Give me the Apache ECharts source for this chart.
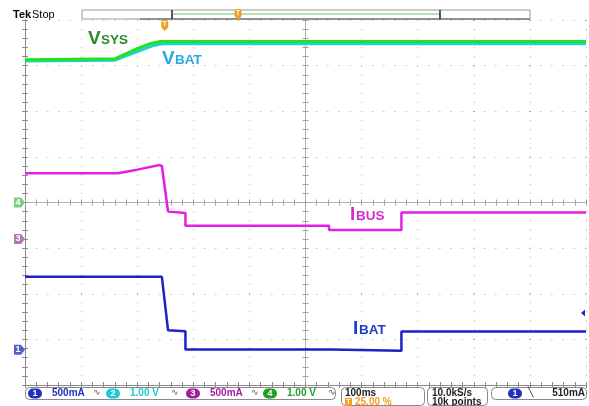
<!DOCTYPE html>
<html>
<head>
<meta charset="utf-8">
<script src="https://cdn.jsdelivr.net/npm/echarts@6/dist/echarts.min.js"></script>
<style>
html, body { margin: 0; padding: 0; background: #fff; }
#chart { width: 589px; height: 406px; }
</style>
</head>
<body>
<div id="chart"></div>
<script>
// time in ms (100 ms/div), values in screen divisions (0 = bottom of graticule, 8 = top)
const vbat = [[0, 7.10], [160, 7.12], [205, 7.33], [228, 7.44], [245, 7.48], [1000, 7.48]];
const vsys = [[0, 7.13], [160, 7.15], [200, 7.37], [223, 7.48], [241, 7.53], [1000, 7.53]];
const ibus = [[0, 4.64], [166, 4.64], [200, 4.72], [240, 4.82], [244, 4.80], [255, 3.80], [286, 3.77],
              [286, 3.49], [542, 3.49], [542, 3.40], [671, 3.40], [671, 3.78], [1000, 3.78]];
const ibat = [[0, 2.37], [244, 2.37], [255, 1.20], [286, 1.18], [286, 0.78], [547, 0.78], [547, 0.75],
              [671, 0.75], [671, 1.17], [1000, 1.17]];

// channel ground markers (div) and trigger level
const chMarkers = [
    { label: '4', div: 4.0, color: '#7ad07a' },
    { label: '3', div: 3.2, color: '#b07aaa' },
    { label: '1', div: 0.77, color: '#5560d0' }
];
const triggerLevel = 1.58;
const triggerTime = 250;

const chInfo = [
    { ch: '1', text: '500mA', color: '#2030c0' },
    { ch: '2', text: '1.00 V', color: '#20c8d8' },
    { ch: '3', text: '500mA', color: '#a020a0' },
    { ch: '4', text: '1.00 V', color: '#20a020' }
];

const gridBox = { left: 25, top: 20, width: 561, height: 365 };

const chart = echarts.init(document.getElementById('chart'));

const frameTick = { show: true, inside: true, length: 3, lineStyle: { color: '#8a8a8a' } };
const frameMinor = { show: true, splitNumber: 5, length: 3, lineStyle: { color: '#8a8a8a' } };

const option = {
    animation: false,
    backgroundColor: '#fff',
    grid: [
        Object.assign({}, gridBox),
        Object.assign({}, gridBox),
        Object.assign({}, gridBox),
        Object.assign({}, gridBox)
    ],
    xAxis: [
        {
            type: 'value', gridIndex: 0, position: 'bottom', min: 0, max: 1000, interval: 100,
            axisLine: { show: true, lineStyle: { color: '#8a8a8a' } },
            axisTick: frameTick, minorTick: frameMinor,
            axisLabel: { show: false },
            splitLine: { show: true, lineStyle: { color: '#a8a8a8', type: [1, 8.1], width: 1 } }
        },
        {
            type: 'value', gridIndex: 1, position: 'top', min: 0, max: 1000, interval: 100,
            axisLine: { show: true, lineStyle: { color: '#8a8a8a' } },
            axisTick: frameTick, minorTick: frameMinor,
            axisLabel: { show: false }, splitLine: { show: false }
        },
        // centre horizontal line, ticks both sides
        {
            type: 'value', gridIndex: 2, min: -5, max: 5, interval: 1,
            axisLine: { show: true, onZero: true, lineStyle: { color: '#b0b0b0' } },
            axisTick: { show: true, length: 3, lineStyle: { color: '#a0a0a0' } },
            minorTick: { show: true, splitNumber: 5, length: 3, lineStyle: { color: '#a0a0a0' } },
            axisLabel: { show: false }, splitLine: { show: false }
        },
        {
            type: 'value', gridIndex: 3, min: -5, max: 5, interval: 1,
            axisLine: { show: false, onZero: true },
            axisTick: { show: true, inside: true, length: 3, lineStyle: { color: '#a0a0a0' } },
            minorTick: { show: true, splitNumber: 5, length: 3, lineStyle: { color: '#a0a0a0' } },
            axisLabel: { show: false }, splitLine: { show: false }
        }
    ],
    yAxis: [
        {
            type: 'value', gridIndex: 0, position: 'left', min: 0, max: 8, interval: 1,
            axisLine: { show: true, lineStyle: { color: '#8a8a8a' } },
            axisTick: frameTick, minorTick: frameMinor,
            axisLabel: { show: false },
            splitLine: { show: true, lineStyle: { color: '#a8a8a8', type: [1, 10.2], width: 1 } }
        },
        {
            type: 'value', gridIndex: 1, position: 'right', min: 0, max: 8, interval: 1,
            axisLine: { show: true, lineStyle: { color: '#8a8a8a' } },
            axisTick: frameTick, minorTick: frameMinor,
            axisLabel: { show: false }, splitLine: { show: false }
        },
        // centre vertical line, ticks both sides
        {
            type: 'value', gridIndex: 2, min: -4, max: 4, interval: 1,
            axisLine: { show: true, onZero: true, lineStyle: { color: '#b0b0b0' } },
            axisTick: { show: true, length: 3, lineStyle: { color: '#a0a0a0' } },
            minorTick: { show: true, splitNumber: 5, length: 3, lineStyle: { color: '#a0a0a0' } },
            axisLabel: { show: false }, splitLine: { show: false }
        },
        {
            type: 'value', gridIndex: 3, min: -4, max: 4, interval: 1,
            axisLine: { show: false, onZero: true },
            axisTick: { show: true, inside: true, length: 3, lineStyle: { color: '#a0a0a0' } },
            minorTick: { show: true, splitNumber: 5, length: 3, lineStyle: { color: '#a0a0a0' } },
            axisLabel: { show: false }, splitLine: { show: false }
        }
    ],
    series: [
        { name: 'VBAT', type: 'line', data: vbat, symbol: 'none', lineStyle: { color: '#1ed2d2', width: 3 } },
        { name: 'VSYS', type: 'line', data: vsys, symbol: 'none', lineStyle: { color: '#22e022', width: 3 } },
        { name: 'IBUS', type: 'line', data: ibus, symbol: 'none', lineStyle: { color: '#e41ee4', width: 2.5 } },
        { name: 'IBAT', type: 'line', data: ibat, symbol: 'none', lineStyle: { color: '#1a22c8', width: 2.5 } }
    ]
};
chart.setOption(option);

// ---- overlay: labels, scope chrome ----
const FONT = '"Liberation Sans", Arial, sans-serif';
const g = [];

function txt(x, y, text, size, color, weight, align, z) {
    g.push({
        type: 'text', x: x, y: y, z: z || 20,
        style: { text: text, fill: color, font: (weight || 'normal') + ' ' + size + 'px ' + FONT,
                 align: align || 'left', verticalAlign: 'middle' }
    });
}
function traceLabel(x, y, big, small, color) {
    txt(x, y, big, 19, color, 'bold');
    const w = big === 'I' ? 6 : 13;
    txt(x + w, y + 1.5, small, 13.5, color, 'bold');
}
traceLabel(88, 38.5, 'V', 'SYS', '#2a8a2a');
traceLabel(162, 59, 'V', 'BAT', '#2aa8e0');
traceLabel(350, 214.5, 'I', 'BUS', '#d42ccc');
traceLabel(353, 329, 'I', 'BAT', '#1e3ccc');

// Tek Stop header
txt(13, 15, 'Tek', 11, '#000', 'bold');
txt(32, 15, 'Stop', 11, '#000');

// record bar
g.push({ type: 'rect', shape: { x: 82, y: 10, width: 448, height: 9 }, style: { fill: '#fff', stroke: '#999', lineWidth: 1 } });
g.push({ type: 'line', shape: { x1: 172, y1: 14, x2: 440, y2: 14 }, style: { stroke: '#6cc86c', lineWidth: 1 } });
g.push({ type: 'line', shape: { x1: 140, y1: 19, x2: 530, y2: 19 }, style: { stroke: '#555', lineWidth: 1.2 } });
g.push({ type: 'line', shape: { x1: 172, y1: 10, x2: 172, y2: 19 }, style: { stroke: '#222', lineWidth: 1.5 } });
g.push({ type: 'line', shape: { x1: 440, y1: 10, x2: 440, y2: 19 }, style: { stroke: '#222', lineWidth: 1.5 } });

function trigIcon(x, y) {
    g.push({ type: 'rect', z: 21, shape: { x: x - 3.5, y: y - 5, width: 7, height: 8, r: 1.5 }, style: { fill: '#f0a020' } });
    g.push({ type: 'polygon', z: 21, shape: { points: [[x - 3, y + 3], [x + 3, y + 3], [x, y + 6]] }, style: { fill: '#f0a020' } });
    txt(x, y - 1, 'T', 7, '#fff', 'bold', 'center', 22);
}
trigIcon(238, 14);

// channel markers on the left
chMarkers.forEach(function (m) {
    const p = chart.convertToPixel({ gridIndex: 0 }, [0, m.div]);
    g.push({ type: 'polygon', z: 21, shape: { points: [[p[0] - 11, p[1] - 5], [p[0] - 4, p[1] - 5], [p[0], p[1]], [p[0] - 4, p[1] + 5], [p[0] - 11, p[1] + 5]] },
             style: { fill: m.color } });
    txt(p[0] - 7, p[1], m.label, 9, '#fff', 'bold', 'center', 22);
});
// trigger time marker below the top edge
const tp = chart.convertToPixel({ gridIndex: 0 }, [triggerTime, 8]);
trigIcon(tp[0] - 0.5, tp[1] + 5);
// trigger level arrow on the right
const lp = chart.convertToPixel({ gridIndex: 0 }, [1000, triggerLevel]);
g.push({ type: 'polygon', z: 21, shape: { points: [[lp[0] - 5, lp[1]], [lp[0] - 1, lp[1] - 3.5], [lp[0] - 1, lp[1] + 3.5]] }, style: { fill: '#2030c0' } });

// status bar
function box(x, w, h) {
    g.push({ type: 'rect', shape: { x: x, y: 387.5, width: w, height: h, r: 4 }, style: { fill: 'none', stroke: '#888', lineWidth: 1 } });
}
box(25.5, 310, 12);
box(341.5, 83, 18);
box(427.5, 60, 18);
box(491.5, 95, 12);

function chBadge(cx, cy, label, color) {
    g.push({ type: 'rect', z: 21, shape: { x: cx - 7, y: cy - 5, width: 14, height: 10, r: 5 }, style: { fill: color } });
    txt(cx, cy, label, 9, '#fff', 'bold', 'center', 22);
}
const badgeX = [35, 113, 193, 270];
chInfo.forEach(function (c, i) {
    chBadge(badgeX[i], 393.5, c.ch, c.color);
    txt(badgeX[i] + 17, 393.5, c.text, 10, c.color, 'bold');
    txt(badgeX[i] + 62, 393, '\u223f', 9, '#555', 'normal', 'center');
});
txt(345, 393, '100ms', 10, '#222', 'bold');
g.push({ type: 'rect', z: 21, shape: { x: 345, y: 398, width: 7, height: 8 }, style: { fill: '#f0a020' } });
txt(348.5, 402, 'T', 7, '#fff', 'bold', 'center', 22);
txt(355, 402, '25.00 %', 10, '#f0a020', 'bold');
txt(432, 393, '10.0kS/s', 10, '#222', 'bold');
txt(432, 402, '10k points', 10, '#222', 'bold');
chBadge(515, 393.5, '1', '#2030c0');
txt(530, 393, '\u2572', 9, '#222', 'normal', 'center');
txt(585, 393.5, '510mA', 10, '#222', 'bold', 'right');

chart.setOption({ graphic: g });
</script>
</body>
</html>
